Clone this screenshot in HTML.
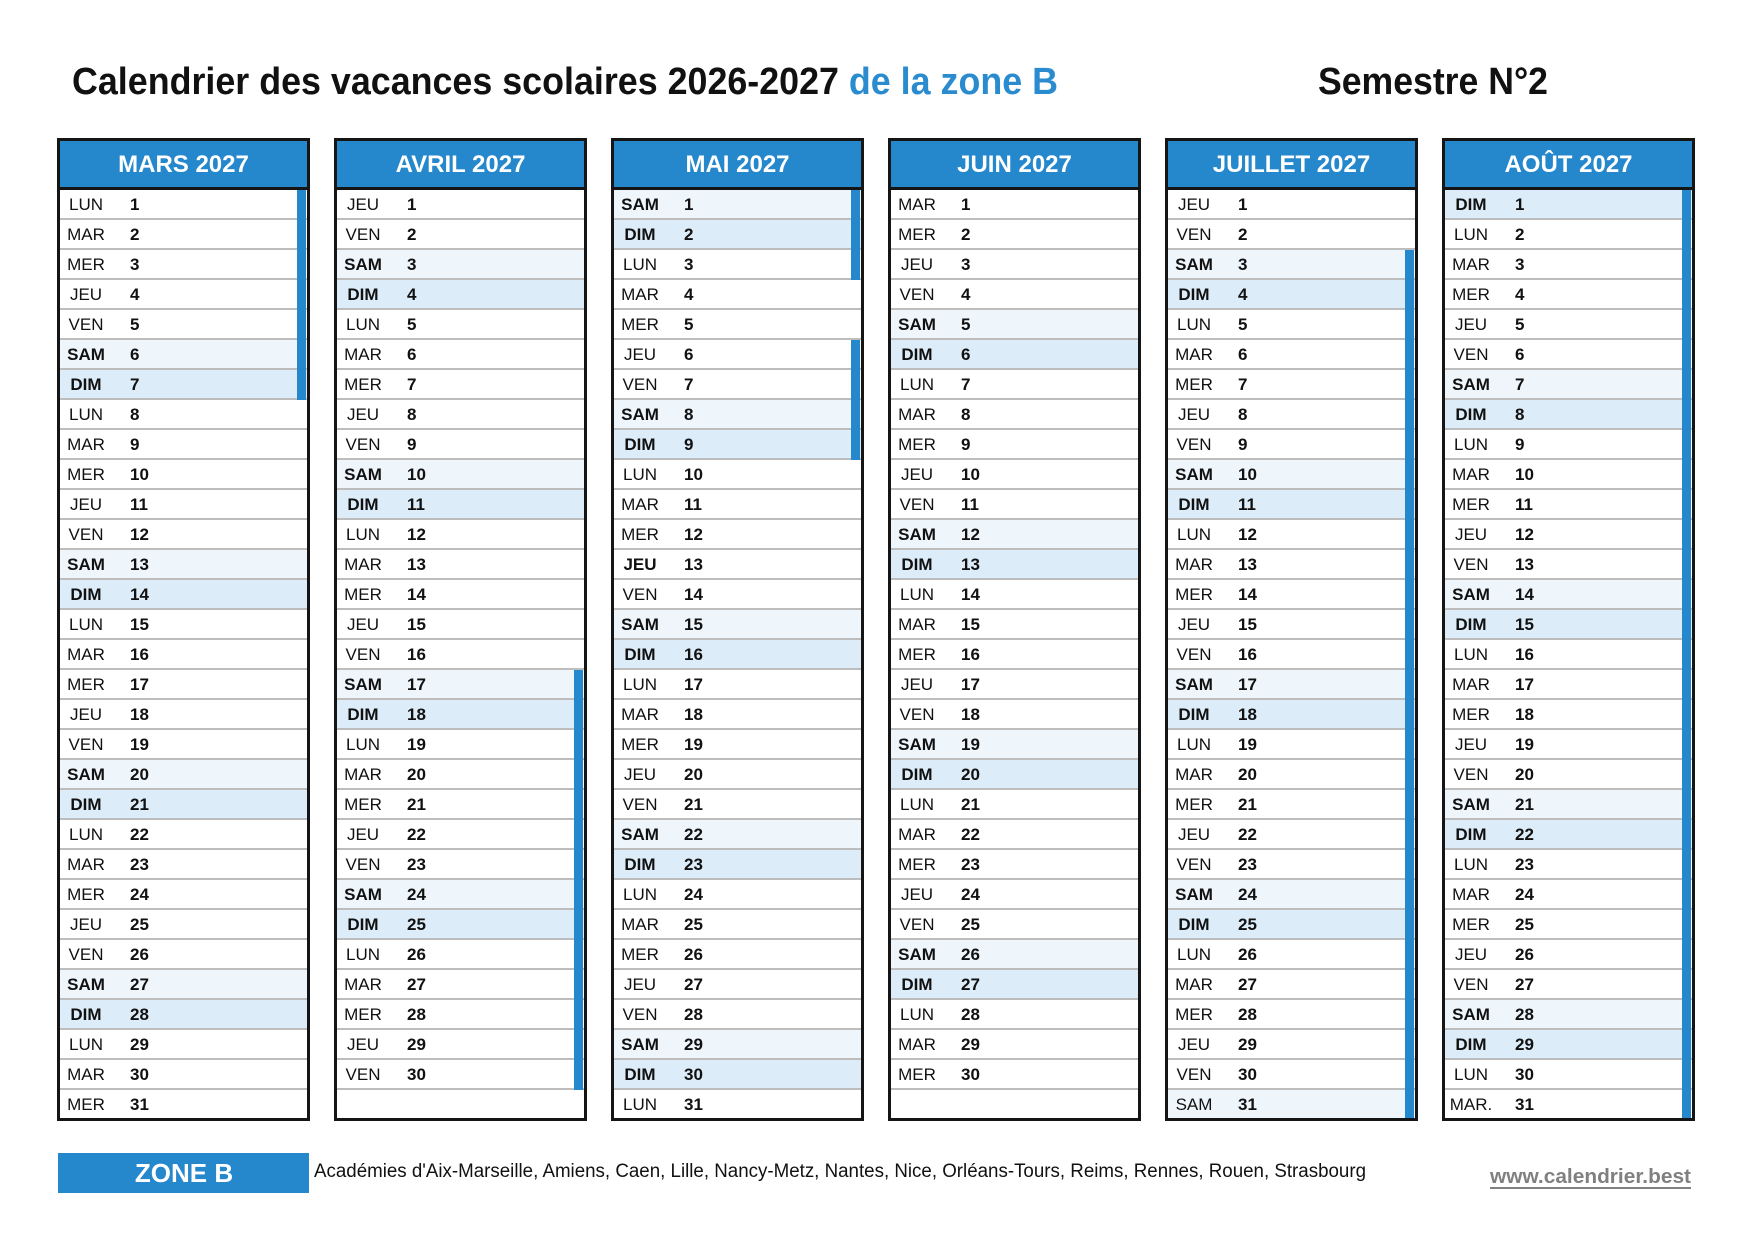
<!DOCTYPE html>
<html><head><meta charset="utf-8"><style>
*{margin:0;padding:0;box-sizing:border-box}
body{width:1754px;height:1240px;background:#fff;position:relative;overflow:hidden;font-family:"Liberation Sans",Arial,sans-serif;color:#111}
.t{position:absolute;top:138px;width:253px;height:983px;border:3px solid #151515;overflow:hidden;background:#fff}
.h{height:49px;background:#2587cc;border-bottom:3px solid #151515;color:#fff;font-weight:bold;font-size:24px;text-align:center;line-height:47px}
.r{position:relative;height:30px;border-bottom:2px solid #bdbdbd;font-size:17px;line-height:30px}
.r b{position:absolute;left:0;width:52px;text-align:center;font-weight:normal}
.r i{position:absolute;left:70px;font-style:normal;font-weight:bold}
.s{background:#eef5fb}.d{background:#dcecf8}
.s b,.d b,.x b{font-weight:bold}
.s.n b{font-weight:normal}
.bar{position:absolute;right:1px;width:9px;background:#2587cc}
</style></head><body>
<svg width="1754" height="1240" style="position:absolute;left:0;top:0">
<text x="72" y="94" font-family="Liberation Sans, Arial, sans-serif" font-weight="bold" font-size="38" fill="#111" textLength="986" lengthAdjust="spacingAndGlyphs">Calendrier des vacances scolaires 2026-2027 <tspan fill="#2a8ccf">de la zone B</tspan></text>
<text x="1318" y="94" font-family="Liberation Sans, Arial, sans-serif" font-weight="bold" font-size="38" fill="#111" textLength="230" lengthAdjust="spacingAndGlyphs">Semestre N°2</text>
<rect x="58" y="1153" width="251" height="40" fill="#2587cc"/>
<text x="184" y="1182" text-anchor="middle" font-family="Liberation Sans, Arial, sans-serif" font-weight="bold" font-size="26" fill="#fff">ZONE B</text>
<text x="314" y="1177" font-family="Liberation Sans, Arial, sans-serif" font-size="19" fill="#111" textLength="1052" lengthAdjust="spacingAndGlyphs">Académies d'Aix-Marseille, Amiens, Caen, Lille, Nancy-Metz, Nantes, Nice, Orléans-Tours, Reims, Rennes, Rouen, Strasbourg</text>
<text x="1490" y="1183" font-family="Liberation Sans, Arial, sans-serif" font-weight="bold" font-size="20" fill="#808080" textLength="201" lengthAdjust="spacingAndGlyphs">www.calendrier.best</text>
<rect x="1490" y="1187" width="201" height="2" fill="#808080"/>
</svg>

<div class="t" style="left:57px"><div class="h">MARS 2027</div>
<div class="r"><b>LUN</b><i>1</i></div><div class="r"><b>MAR</b><i>2</i></div><div class="r"><b>MER</b><i>3</i></div><div class="r"><b>JEU</b><i>4</i></div><div class="r"><b>VEN</b><i>5</i></div><div class="r s"><b>SAM</b><i>6</i></div><div class="r d"><b>DIM</b><i>7</i></div>
<div class="r"><b>LUN</b><i>8</i></div><div class="r"><b>MAR</b><i>9</i></div><div class="r"><b>MER</b><i>10</i></div><div class="r"><b>JEU</b><i>11</i></div><div class="r"><b>VEN</b><i>12</i></div><div class="r s"><b>SAM</b><i>13</i></div><div class="r d"><b>DIM</b><i>14</i></div>
<div class="r"><b>LUN</b><i>15</i></div><div class="r"><b>MAR</b><i>16</i></div><div class="r"><b>MER</b><i>17</i></div><div class="r"><b>JEU</b><i>18</i></div><div class="r"><b>VEN</b><i>19</i></div><div class="r s"><b>SAM</b><i>20</i></div><div class="r d"><b>DIM</b><i>21</i></div>
<div class="r"><b>LUN</b><i>22</i></div><div class="r"><b>MAR</b><i>23</i></div><div class="r"><b>MER</b><i>24</i></div><div class="r"><b>JEU</b><i>25</i></div><div class="r"><b>VEN</b><i>26</i></div><div class="r s"><b>SAM</b><i>27</i></div><div class="r d"><b>DIM</b><i>28</i></div>
<div class="r"><b>LUN</b><i>29</i></div><div class="r"><b>MAR</b><i>30</i></div><div class="r"><b>MER</b><i>31</i></div>
<div class="bar" style="top:49px;height:210px"></div>
</div>

<div class="t" style="left:334px"><div class="h">AVRIL 2027</div>
<div class="r"><b>JEU</b><i>1</i></div><div class="r"><b>VEN</b><i>2</i></div><div class="r s"><b>SAM</b><i>3</i></div><div class="r d"><b>DIM</b><i>4</i></div>
<div class="r"><b>LUN</b><i>5</i></div><div class="r"><b>MAR</b><i>6</i></div><div class="r"><b>MER</b><i>7</i></div><div class="r"><b>JEU</b><i>8</i></div><div class="r"><b>VEN</b><i>9</i></div><div class="r s"><b>SAM</b><i>10</i></div><div class="r d"><b>DIM</b><i>11</i></div>
<div class="r"><b>LUN</b><i>12</i></div><div class="r"><b>MAR</b><i>13</i></div><div class="r"><b>MER</b><i>14</i></div><div class="r"><b>JEU</b><i>15</i></div><div class="r"><b>VEN</b><i>16</i></div><div class="r s"><b>SAM</b><i>17</i></div><div class="r d"><b>DIM</b><i>18</i></div>
<div class="r"><b>LUN</b><i>19</i></div><div class="r"><b>MAR</b><i>20</i></div><div class="r"><b>MER</b><i>21</i></div><div class="r"><b>JEU</b><i>22</i></div><div class="r"><b>VEN</b><i>23</i></div><div class="r s"><b>SAM</b><i>24</i></div><div class="r d"><b>DIM</b><i>25</i></div>
<div class="r"><b>LUN</b><i>26</i></div><div class="r"><b>MAR</b><i>27</i></div><div class="r"><b>MER</b><i>28</i></div><div class="r"><b>JEU</b><i>29</i></div><div class="r"><b>VEN</b><i>30</i></div><div class="r"></div>
<div class="bar" style="top:529px;height:420px"></div>
</div>

<div class="t" style="left:611px"><div class="h">MAI 2027</div>
<div class="r s"><b>SAM</b><i>1</i></div><div class="r d"><b>DIM</b><i>2</i></div>
<div class="r"><b>LUN</b><i>3</i></div><div class="r"><b>MAR</b><i>4</i></div><div class="r"><b>MER</b><i>5</i></div><div class="r"><b>JEU</b><i>6</i></div><div class="r"><b>VEN</b><i>7</i></div><div class="r s"><b>SAM</b><i>8</i></div><div class="r d"><b>DIM</b><i>9</i></div>
<div class="r"><b>LUN</b><i>10</i></div><div class="r"><b>MAR</b><i>11</i></div><div class="r"><b>MER</b><i>12</i></div><div class="r x"><b>JEU</b><i>13</i></div><div class="r"><b>VEN</b><i>14</i></div><div class="r s"><b>SAM</b><i>15</i></div><div class="r d"><b>DIM</b><i>16</i></div>
<div class="r"><b>LUN</b><i>17</i></div><div class="r"><b>MAR</b><i>18</i></div><div class="r"><b>MER</b><i>19</i></div><div class="r"><b>JEU</b><i>20</i></div><div class="r"><b>VEN</b><i>21</i></div><div class="r s"><b>SAM</b><i>22</i></div><div class="r d"><b>DIM</b><i>23</i></div>
<div class="r"><b>LUN</b><i>24</i></div><div class="r"><b>MAR</b><i>25</i></div><div class="r"><b>MER</b><i>26</i></div><div class="r"><b>JEU</b><i>27</i></div><div class="r"><b>VEN</b><i>28</i></div><div class="r s"><b>SAM</b><i>29</i></div><div class="r d"><b>DIM</b><i>30</i></div>
<div class="r"><b>LUN</b><i>31</i></div>
<div class="bar" style="top:49px;height:90px"></div>
<div class="bar" style="top:199px;height:120px"></div>
</div>

<div class="t" style="left:888px"><div class="h">JUIN 2027</div>
<div class="r"><b>MAR</b><i>1</i></div><div class="r"><b>MER</b><i>2</i></div><div class="r"><b>JEU</b><i>3</i></div><div class="r"><b>VEN</b><i>4</i></div><div class="r s"><b>SAM</b><i>5</i></div><div class="r d"><b>DIM</b><i>6</i></div>
<div class="r"><b>LUN</b><i>7</i></div><div class="r"><b>MAR</b><i>8</i></div><div class="r"><b>MER</b><i>9</i></div><div class="r"><b>JEU</b><i>10</i></div><div class="r"><b>VEN</b><i>11</i></div><div class="r s"><b>SAM</b><i>12</i></div><div class="r d"><b>DIM</b><i>13</i></div>
<div class="r"><b>LUN</b><i>14</i></div><div class="r"><b>MAR</b><i>15</i></div><div class="r"><b>MER</b><i>16</i></div><div class="r"><b>JEU</b><i>17</i></div><div class="r"><b>VEN</b><i>18</i></div><div class="r s"><b>SAM</b><i>19</i></div><div class="r d"><b>DIM</b><i>20</i></div>
<div class="r"><b>LUN</b><i>21</i></div><div class="r"><b>MAR</b><i>22</i></div><div class="r"><b>MER</b><i>23</i></div><div class="r"><b>JEU</b><i>24</i></div><div class="r"><b>VEN</b><i>25</i></div><div class="r s"><b>SAM</b><i>26</i></div><div class="r d"><b>DIM</b><i>27</i></div>
<div class="r"><b>LUN</b><i>28</i></div><div class="r"><b>MAR</b><i>29</i></div><div class="r"><b>MER</b><i>30</i></div><div class="r"></div>
</div>

<div class="t" style="left:1165px"><div class="h">JUILLET 2027</div>
<div class="r"><b>JEU</b><i>1</i></div><div class="r"><b>VEN</b><i>2</i></div><div class="r s"><b>SAM</b><i>3</i></div><div class="r d"><b>DIM</b><i>4</i></div>
<div class="r"><b>LUN</b><i>5</i></div><div class="r"><b>MAR</b><i>6</i></div><div class="r"><b>MER</b><i>7</i></div><div class="r"><b>JEU</b><i>8</i></div><div class="r"><b>VEN</b><i>9</i></div><div class="r s"><b>SAM</b><i>10</i></div><div class="r d"><b>DIM</b><i>11</i></div>
<div class="r"><b>LUN</b><i>12</i></div><div class="r"><b>MAR</b><i>13</i></div><div class="r"><b>MER</b><i>14</i></div><div class="r"><b>JEU</b><i>15</i></div><div class="r"><b>VEN</b><i>16</i></div><div class="r s"><b>SAM</b><i>17</i></div><div class="r d"><b>DIM</b><i>18</i></div>
<div class="r"><b>LUN</b><i>19</i></div><div class="r"><b>MAR</b><i>20</i></div><div class="r"><b>MER</b><i>21</i></div><div class="r"><b>JEU</b><i>22</i></div><div class="r"><b>VEN</b><i>23</i></div><div class="r s"><b>SAM</b><i>24</i></div><div class="r d"><b>DIM</b><i>25</i></div>
<div class="r"><b>LUN</b><i>26</i></div><div class="r"><b>MAR</b><i>27</i></div><div class="r"><b>MER</b><i>28</i></div><div class="r"><b>JEU</b><i>29</i></div><div class="r"><b>VEN</b><i>30</i></div><div class="r s n"><b>SAM</b><i>31</i></div>
<div class="bar" style="top:109px;height:870px"></div>
</div>

<div class="t" style="left:1442px"><div class="h">AOÛT 2027</div>
<div class="r d"><b>DIM</b><i>1</i></div>
<div class="r"><b>LUN</b><i>2</i></div><div class="r"><b>MAR</b><i>3</i></div><div class="r"><b>MER</b><i>4</i></div><div class="r"><b>JEU</b><i>5</i></div><div class="r"><b>VEN</b><i>6</i></div><div class="r s"><b>SAM</b><i>7</i></div><div class="r d"><b>DIM</b><i>8</i></div>
<div class="r"><b>LUN</b><i>9</i></div><div class="r"><b>MAR</b><i>10</i></div><div class="r"><b>MER</b><i>11</i></div><div class="r"><b>JEU</b><i>12</i></div><div class="r"><b>VEN</b><i>13</i></div><div class="r s"><b>SAM</b><i>14</i></div><div class="r d"><b>DIM</b><i>15</i></div>
<div class="r"><b>LUN</b><i>16</i></div><div class="r"><b>MAR</b><i>17</i></div><div class="r"><b>MER</b><i>18</i></div><div class="r"><b>JEU</b><i>19</i></div><div class="r"><b>VEN</b><i>20</i></div><div class="r s"><b>SAM</b><i>21</i></div><div class="r d"><b>DIM</b><i>22</i></div>
<div class="r"><b>LUN</b><i>23</i></div><div class="r"><b>MAR</b><i>24</i></div><div class="r"><b>MER</b><i>25</i></div><div class="r"><b>JEU</b><i>26</i></div><div class="r"><b>VEN</b><i>27</i></div><div class="r s"><b>SAM</b><i>28</i></div><div class="r d"><b>DIM</b><i>29</i></div>
<div class="r"><b>LUN</b><i>30</i></div><div class="r"><b>MAR.</b><i>31</i></div>
<div class="bar" style="top:49px;height:930px"></div>
</div>
</body></html>
